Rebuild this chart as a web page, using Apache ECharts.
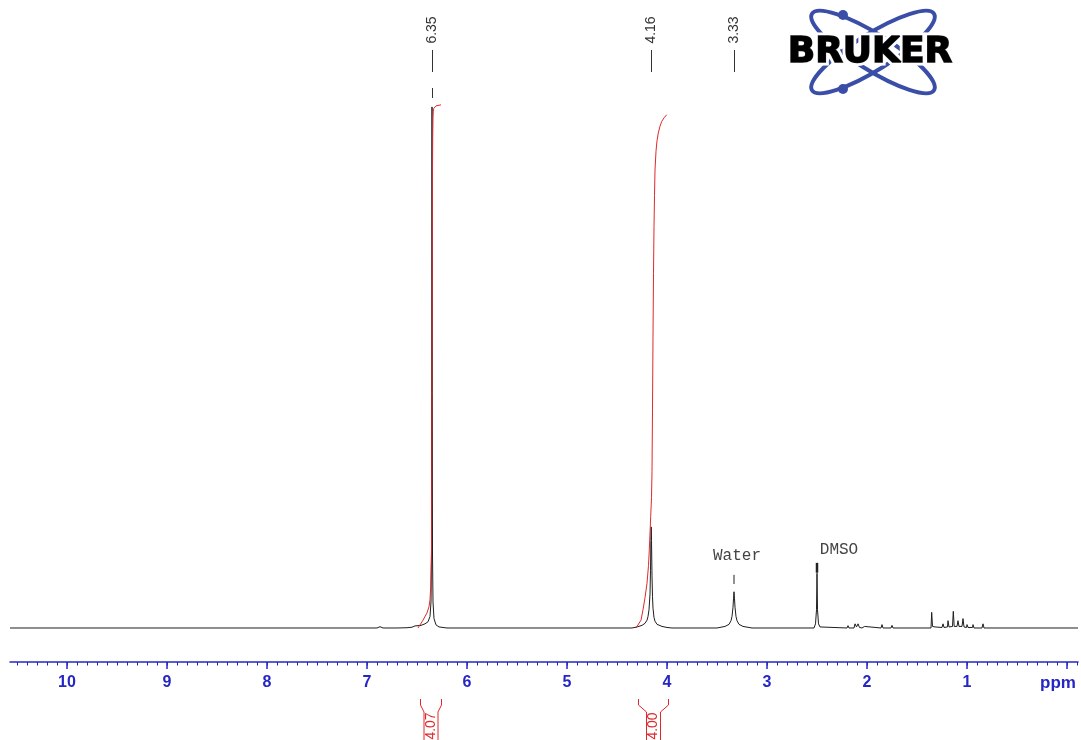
<!DOCTYPE html>
<html><head><meta charset="utf-8">
<script src="https://cdn.jsdelivr.net/npm/echarts@6/dist/echarts.min.js"></script>
<style>html,body{margin:0;padding:0;background:#fff}#c{width:1081px;height:740px}</style>
</head><body><div id="c"></div>
<script>
// ---- data (ppm, relative intensity; tallest peak = 100) ----
const spectrum = [
  [10.57,0],[9.2,0],[8.0,0],[7.2,0],[6.90,0],[6.87,0.25],[6.84,0],[6.70,0],[6.60,0.05],[6.55,0.15],[6.52,0.4],[6.50,0.25],
  [6.46,0.5],[6.42,0.8],[6.39,1.2],[6.37,2.2],[6.36,5],[6.355,14],[6.353,45],[6.351,90],[6.35,100],[6.349,90],[6.347,45],
  [6.345,14],[6.34,5],[6.33,1.8],[6.31,0.6],[6.28,0.2],[6.20,0],[5.5,0],[4.55,0],[4.54,0.2],[4.53,0],[4.35,0],[4.30,0.2],
  [4.25,0.5],[4.22,0.9],[4.20,1.5],[4.19,2.2],[4.18,3.5],[4.17,6.5],[4.165,11],[4.161,16.8],[4.158,19.4],[4.155,16.8],
  [4.15,10],[4.145,6],[4.14,3.8],[4.13,2],[4.12,1.3],[4.10,0.7],[4.05,0.3],[4.00,0.1],[3.95,0],[3.50,0],[3.42,0.3],[3.38,0.7],
  [3.36,1.4],[3.35,2.2],[3.34,4],[3.335,5.6],[3.33,6.95],[3.325,5.6],[3.32,4],[3.31,2.2],[3.30,1.4],[3.28,0.7],[3.24,0.3],
  [3.15,0],[2.53,0],[2.515,0.8],[2.505,3.5],[2.50,10.5],[2.495,3.5],[2.485,0.8],[2.47,0.2],[2.45,0],
  [2.20,0],[2.19,0.45],[2.18,0],[2.13,0],[2.12,0.8],[2.105,0.2],[2.09,0.8],[2.075,0.1],[2.06,0.45],[2.05,0],[2.025,0.3],[2.015,0],
  [1.86,0],[1.85,0.65],[1.84,0],[1.76,0],[1.75,0.5],[1.74,0],[1.36,0],[1.353,3.0],[1.345,0.3],[1.32,0.2],[1.25,0.1],[1.24,0.8],
  [1.23,0.1],[1.195,0.2],[1.19,1.4],[1.18,0.2],[1.145,0.3],[1.137,3.2],[1.128,0.3],[1.10,0.3],[1.09,1.4],[1.08,0.3],[1.05,0.3],
  [1.04,1.8],[1.03,0.2],[1.005,0.1],[1.00,0.65],[0.99,0.1],[0.945,0.1],[0.94,0.65],[0.93,0],[0.85,0],[0.84,0.8],[0.83,0],
  [0.5,0],[-0.11,0]
];
const integral1 = [
  [6.49,0],[6.48,0.25],[6.44,1.5],[6.40,2.9],[6.38,4.1],[6.37,5.4],[6.363,7.9],[6.36,10.5],[6.355,15],[6.352,30],[6.35,50],
  [6.348,70],[6.346,85],[6.343,94],[6.34,98],[6.337,99.2],[6.333,99.7],[6.325,100],[6.31,100.2],[6.29,100.3],[6.26,100.4]
];
const integral2 = [
  [4.31,0],[4.29,0.3],[4.26,1.5],[4.24,3.5],[4.22,5.8],[4.20,8.6],[4.185,12],[4.177,15],[4.168,19],[4.163,21.4],[4.155,25],
  [4.15,30],[4.145,42],[4.14,56],[4.135,68],[4.13,77],[4.125,83],[4.12,87.9],[4.11,91.5],[4.10,93.5],[4.087,95],[4.07,96.3],
  [4.053,97.2],[4.03,97.9],[4.003,98.5]
];
const peakLabels = [6.35, 4.16, 3.33];
const peakLabelTops = [100, 19.4, 6.95];
const integralRanges = [[6.47, 6.26], [4.29, 3.99]];
const integralValues = ['4.07', '4.00'];
const solventNames = ['Water', 'DMSO'];
const solventTextPpm = [3.30, 2.28];
const solventTextLevel = [13.8, 15.0];
const solventMarkPpm = [3.33, 2.50];
const solventMarkRange = [[8.45, 10.2], [10.6, 12.5]];
const majorTicks = [0,1,2,3,4,5,6,7,8,9,10];
const minorTicks = [];
for (let i = -1; i <= 105; i++) minorTicks.push(i / 10);

const BLUE = '#2626c4';
const RED = '#e0282c';
const ORBIT = '#3a4ea8';

const chart = echarts.init(document.getElementById('c'));
chart.setOption({
  animation: false,
  backgroundColor: '#ffffff',
  grid: { left: 10, right: 3, top: 10, bottom: 78 },
  xAxis: [
    {
      type: 'value', inverse: true, min: -0.11, max: 10.57, position: 'bottom',
      axisLine: { show: true, onZero: false, lineStyle: { color: BLUE, width: 1.5 } },
      axisTick: { show: true, customValues: majorTicks, length: 7, lineStyle: { color: BLUE, width: 1.5 } },
      axisLabel: {
        customValues: majorTicks, margin: 13, color: BLUE, fontWeight: 'bold', fontSize: 16,
        fontFamily: '"Liberation Sans", Arial, sans-serif',
        formatter: v => v === 0 ? '{p|ppm}' : String(v),
        rich: { p: { color: BLUE, fontWeight: 'bold', fontSize: 17, fontFamily: '"Liberation Sans", Arial, sans-serif', padding: [0, 18, 0, 0] } }
      },
      splitLine: { show: false }
    },
    {
      type: 'value', inverse: true, min: -0.11, max: 10.57, position: 'bottom',
      axisLine: { show: false, onZero: false },
      axisTick: { show: true, customValues: minorTicks, length: 3.5, lineStyle: { color: BLUE, width: 1 } },
      axisLabel: { show: false },
      splitLine: { show: false }
    }
  ],
  yAxis: { type: 'value', min: -6.526, max: 118.6, show: false },
  graphic: [
    { type: 'ellipse', x: 873, y: 52, rotation: -0.56, shape: { cx: 0, cy: 0, rx: 72, ry: 18 }, style: { fill: null, stroke: ORBIT, lineWidth: 4 } },
    { type: 'ellipse', x: 873, y: 52, rotation: 0.56, shape: { cx: 0, cy: 0, rx: 72, ry: 18 }, style: { fill: null, stroke: ORBIT, lineWidth: 4 } },
    { type: 'circle', shape: { cx: 843, cy: 15, r: 5 }, style: { fill: ORBIT } },
    { type: 'circle', shape: { cx: 843, cy: 89, r: 5 }, style: { fill: ORBIT } },
    { type: 'text', x: 870, y: 53, style: { text: 'BRUKER', font: 'bold 36px "DejaVu Sans", sans-serif', fill: '#000', stroke: '#fff', lineWidth: 7, align: 'center', verticalAlign: 'middle' } },
    { type: 'text', x: 870, y: 53, style: { text: 'BRUKER', font: 'bold 36px "DejaVu Sans", sans-serif', fill: '#000', stroke: '#111', lineWidth: 1.5, align: 'center', verticalAlign: 'middle' } }
  ],
  series: [
    {
      type: 'line', data: spectrum, showSymbol: false, symbol: 'none', clip: false, z: 2,
      lineStyle: { color: '#1e1e1e', width: 1 }
    },
    {
      type: 'line', data: integral1, showSymbol: false, symbol: 'none', clip: false, z: 3,
      lineStyle: { color: RED, width: 1 }
    },
    {
      type: 'line', data: integral2, showSymbol: false, symbol: 'none', clip: false, z: 3,
      lineStyle: { color: RED, width: 1 }
    },
    {
      type: 'custom', clip: false, z: 4,
      data: peakLabels.map((p, i) => [p, peakLabelTops[i]]),
      renderItem: (params, api) => {
        const ppm = api.value(0);
        const pt = api.coord([ppm, api.value(1)]);
        const x = Math.round(pt[0]) + 0.5;
        const children = [
          { type: 'text', x: x, y: 30, rotation: Math.PI / 2,
            style: { text: ppm.toFixed(2), fill: '#333', font: '14px "Liberation Sans", Arial, sans-serif', align: 'center', verticalAlign: 'middle' } },
          { type: 'line', shape: { x1: x, y1: 50, x2: x, y2: 72 }, style: { stroke: '#333', lineWidth: 1 } }
        ];
        if (pt[1] < 120) children.push({ type: 'line', shape: { x1: x, y1: 88, x2: x, y2: 98 }, style: { stroke: '#333', lineWidth: 1 } });
        return { type: 'group', children };
      }
    },
    {
      type: 'custom', clip: false, z: 4,
      data: solventNames.map((n, i) => [solventTextPpm[i], solventTextLevel[i], solventMarkPpm[i], solventMarkRange[i][0], solventMarkRange[i][1]]),
      renderItem: (params, api) => {
        const t = api.coord([api.value(0), api.value(1)]);
        const m0 = api.coord([api.value(2), api.value(3)]);
        const m1 = api.coord([api.value(2), api.value(4)]);
        const x = Math.round(m0[0]);
        return { type: 'group', children: [
          { type: 'text', x: t[0], y: t[1], style: { text: solventNames[params.dataIndex], fill: '#444', font: '16px "Liberation Mono", "Courier New", monospace', align: 'center', verticalAlign: 'middle' } },
          { type: 'line', shape: { x1: x, y1: m0[1], x2: x, y2: m1[1] }, style: { stroke: '#222', lineWidth: params.dataIndex === 1 ? 2.5 : 1 } }
        ] };
      }
    },
    {
      type: 'custom', clip: false, z: 4,
      data: integralRanges.map(r => [r[0], 0, r[1]]),
      encode: { x: [0, 2], y: 1 },
      renderItem: (params, api) => {
        const a = api.coord([api.value(0), 0]);
        const b = api.coord([api.value(2), 0]);
        const xl = Math.round(a[0]) + 0.5, xr = Math.round(b[0]) + 0.5;
        const c = (xl + xr) / 2;
        const y0 = a[1] + 71;
        const il = c - 7, ir = c + 7;
        const st = { stroke: RED, fill: null, lineWidth: 1 };
        return { type: 'group', children: [
          { type: 'polyline', shape: { points: [[xl, y0], [xl, y0 + 6], [il, y0 + 13], [il, 745]] }, style: st },
          { type: 'polyline', shape: { points: [[xr, y0], [xr, y0 + 6], [ir, y0 + 13], [ir, 745]] }, style: st },
          { type: 'text', x: c, y: y0 + 27, rotation: Math.PI / 2,
            style: { text: integralValues[params.dataIndex], fill: RED, font: '14px "Liberation Sans", Arial, sans-serif', align: 'center', verticalAlign: 'middle' } }
        ] };
      }
    }
  ]
});
</script>
</body></html>
